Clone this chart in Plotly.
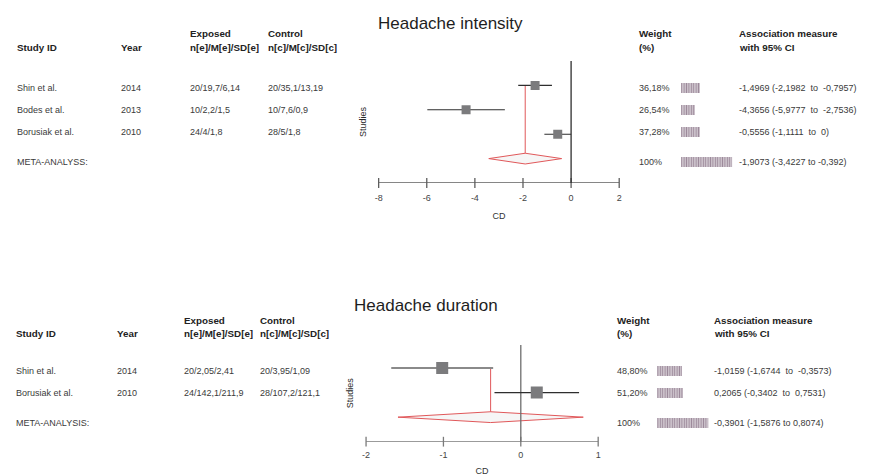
import plotly.graph_objects as go

W, H = 869, 476

# ---------------- Headache intensity ----------------
int_studies = ["Shin et al.", "Bodes et al.", "Borusiak et al."]
int_years = ["2014", "2013", "2010"]
int_exposed = ["20/19,7/6,14", "10/2,2/1,5", "24/4/1,8"]
int_control = ["20/35,1/13,19", "10/7,6/0,9", "28/5/1,8"]
int_cd = [-1.4969, -4.3656, -0.5556]
int_lo = [-2.1982, -5.9777, -1.1111]
int_hi = [-0.7957, -2.7536, 0.0]
int_weight = [36.18, 26.54, 37.28]
int_pooled = [-1.9073, -3.4227, -0.392]   # estimate, lower, upper
int_ticks = [-8, -6, -4, -2, 0, 2]

# ---------------- Headache duration ----------------
dur_studies = ["Shin et al.", "Borusiak et al."]
dur_years = ["2014", "2010"]
dur_exposed = ["20/2,05/2,41", "24/142,1/211,9"]
dur_control = ["20/3,95/1,09", "28/107,2/121,1"]
dur_cd = [-1.0159, 0.2065]
dur_lo = [-1.6744, -0.3402]
dur_hi = [-0.3573, 0.7531]
dur_weight = [48.80, 51.20]
dur_pooled = [-0.3901, -1.5876, 0.8074]
dur_ticks = [-2, -1, 0, 1]

FONT = "Liberation Sans, Arial, sans-serif"
TXT = "#3a3a3a"
HEAD = "#222222"
RED = "#e0585a"
NB = "\u00a0"


def num(v):
    return f"{v:g}".replace(".", ",")


def ci_label(est, lo, hi, wide=True):
    sep = f"{NB}{NB}to{NB}{NB}" if wide else " to "
    return f"{num(est)} ({num(lo)}{sep}{num(hi)})"


def pct(w):
    return "100%" if w == 100 else f"{w:.2f}".replace(".", ",") + "%"


def px_x(p):
    return p / W


def px_y(p):
    return 1 - p / H


annotations = []


def text(x, y, s, size=9, bold=False, color=TXT, anchor="left", angle=0):
    annotations.append(dict(
        x=px_x(x), y=px_y(y), xref="paper", yref="paper",
        text=f"<b>{s}</b>" if bold else s,
        showarrow=False, xanchor=anchor, yanchor="middle", textangle=angle,
        borderpad=0,
        font=dict(family=FONT, size=(size + 0.8) if bold else size,
                  color=HEAD if bold else color)))


fig = go.Figure()


def panel(xa, ya, xb, title, title_xy, studies, years, exposed, control, cd, lo, hi,
          weight, pooled, ticks, cols, head_y, row_y, meta_y, meta_label,
          ci_colors, ci_widths, sq_size, axis_color, zero_color, zero_top, studies_xy):
    n = len(studies)
    axis_row = n + 2
    d_row = n + 1
    dh = 0.22

    # pooled diamond
    fig.add_trace(go.Scatter(
        x=[pooled[1], pooled[0], pooled[2], pooled[0], pooled[1]],
        y=[d_row, d_row - dh, d_row, d_row + dh, d_row],
        mode="lines", fill="toself", fillcolor="rgba(238,238,238,0.5)",
        line=dict(color=RED, width=1), xaxis=xa, yaxis=ya, hoverinfo="skip"))
    # link from first study row down to the diamond
    fig.add_trace(go.Scatter(x=[pooled[0], pooled[0]], y=[1, d_row - dh], mode="lines",
                             line=dict(color=RED, width=1), xaxis=xa, yaxis=ya, hoverinfo="skip"))
    # x axis line and tick marks
    fig.add_trace(go.Scatter(x=[ticks[0], ticks[-1]], y=[axis_row, axis_row], mode="lines",
                             line=dict(color=axis_color, width=1.5), xaxis=xa, yaxis=ya,
                             hoverinfo="skip", cliponaxis=False))
    fig.add_trace(go.Scatter(x=ticks, y=[axis_row] * len(ticks), mode="markers",
                             marker=dict(symbol="line-ns", size=7,
                                         line=dict(color=axis_color, width=1.3)),
                             xaxis=xa, yaxis=ya, hoverinfo="skip", cliponaxis=False))
    # line of no effect
    fig.add_trace(go.Scatter(x=[0, 0], y=[zero_top, axis_row], mode="lines",
                             line=dict(color=zero_color, width=1.3), xaxis=xa, yaxis=ya,
                             hoverinfo="skip", cliponaxis=False))
    # confidence intervals
    for i in range(n):
        fig.add_trace(go.Scatter(x=[lo[i], hi[i]], y=[i + 1, i + 1], mode="lines",
                                 line=dict(color=ci_colors[i], width=ci_widths[i]),
                                 xaxis=xa, yaxis=ya, hoverinfo="skip"))
    # point estimates
    fig.add_trace(go.Scatter(x=cd, y=list(range(1, n + 1)), mode="markers",
                             marker=dict(symbol="square", size=sq_size, color="#7b7b7d",
                                         line=dict(width=0)),
                             xaxis=xa, yaxis=ya, hoverinfo="skip"))
    # weight bars
    fig.add_trace(go.Bar(
        x=weight + [100], y=row_y + [meta_y], orientation="h", width=10, base=0,
        marker=dict(color="white", line=dict(width=0),
                    pattern=dict(shape="|", fgcolor="#3c1638", bgcolor="white",
                                 size=2.4, solidity=0.7)),
        xaxis=xb, yaxis="y3", hoverinfo="skip"))

    # titles and table text
    text(title_xy[0], title_xy[1], title, size=17, color="#1e1e1e", anchor="center")
    text(studies_xy[0], studies_xy[1], "Studies", size=9, color="#2a2a2a",
         anchor="center", angle=-90)
    c_id, c_year, c_exp, c_ctl, c_w, c_as = cols
    h1, h2 = head_y
    text(c_id, h2, "Study ID", bold=True)
    text(c_year, h2, "Year", bold=True)
    text(c_exp, h1, "Exposed", bold=True)
    text(c_exp, h2, "n[e]/M[e]/SD[e]", bold=True)
    text(c_ctl, h1, "Control", bold=True)
    text(c_ctl, h2, "n[c]/M[c]/SD[c]", bold=True)
    text(c_w, h1, "Weight", bold=True)
    text(c_w, h2, "(%)", bold=True)
    text(c_as, h1, "Association measure", bold=True)
    text(c_as, h2, "with 95% CI", bold=True)
    for i in range(n):
        y = row_y[i]
        text(c_id, y, studies[i])
        text(c_year, y, years[i])
        text(c_exp, y, exposed[i])
        text(c_ctl, y, control[i])
        text(c_w, y, pct(weight[i]))
        text(c_as, y, ci_label(cd[i], lo[i], hi[i]))
    text(c_id, meta_y, meta_label)
    text(c_w, meta_y, pct(100))
    text(c_as, meta_y, ci_label(pooled[0], pooled[1], pooled[2], wide=False))


panel("x", "y", "x3", "Headache intensity", (450, 23),
      int_studies, int_years, int_exposed, int_control, int_cd, int_lo, int_hi,
      int_weight, int_pooled, int_ticks,
      cols=(12, 117, 186, 265, 639, 740), head_y=(34, 48),
      row_y=[88, 110, 132], meta_y=162, meta_label="META-ANALYSS:",
      ci_colors=["#2e2e2e"] * 3, ci_widths=[1.1] * 3, sq_size=9,
      axis_color="#5e5e5e", zero_color="#2e2e2e", zero_top=0, studies_xy=(362, 122))

panel("x2", "y2", "x4", "Headache duration", (425, 305),
      dur_studies, dur_years, dur_exposed, dur_control, dur_cd, dur_lo, dur_hi,
      dur_weight, dur_pooled, dur_ticks,
      cols=(11, 113, 180, 257, 617, 715), head_y=(320, 333),
      row_y=[371, 393], meta_y=423, meta_label="META-ANALYSIS:",
      ci_colors=["#8a8a8a", "#2e2e2e"], ci_widths=[2, 1.1], sq_size=12,
      axis_color="#7a7a7a", zero_color="#6e6e6e", zero_top=0.06, studies_xy=(349, 393))

tick_font = dict(family=FONT, size=9, color="#444444")
title_font = dict(family=FONT, size=9, color="#333333")
hidden = dict(visible=False, showgrid=False, zeroline=False, fixedrange=True)

fig.update_layout(
    width=W, height=H, autosize=False,
    margin=dict(l=0, r=0, t=0, b=0),
    paper_bgcolor="white", plot_bgcolor="rgba(0,0,0,0)",
    showlegend=False, bargap=0,
    annotations=annotations,
    xaxis=dict(domain=[377.7 / W, 620.2 / W], range=[-8, 2], anchor="y",
               tickvals=int_ticks, ticktext=[str(t) for t in int_ticks],
               ticks="", showline=False, showgrid=False, zeroline=False,
               tickfont=tick_font, ticklabelstandoff=8,
               title=dict(text="CD", font=title_font, standoff=10)),
    yaxis=dict(domain=[1 - 183 / H, 1 - 61 / H], range=[5, 0], anchor="x", **hidden),
    xaxis2=dict(domain=[365 / W, 599 / W], range=[-2, 1], anchor="y2",
                tickvals=dur_ticks, ticktext=[str(t) for t in dur_ticks],
                ticks="", showline=False, showgrid=False, zeroline=False,
                tickfont=tick_font, ticklabelstandoff=6,
                title=dict(text="CD", font=title_font, standoff=8)),
    yaxis2=dict(domain=[1 - 441.7 / H, 1 - 345 / H], range=[4, 0.06], anchor="x2", **hidden),
    xaxis3=dict(domain=[682 / W, 734 / W], range=[0, 100], anchor="y3", **hidden),
    xaxis4=dict(domain=[658 / W, 710 / W], range=[0, 100], anchor="y3", **hidden),
    yaxis3=dict(domain=[0, 1], range=[H, 0], anchor="x3", **hidden),
)

fig.write_html("out.html")
